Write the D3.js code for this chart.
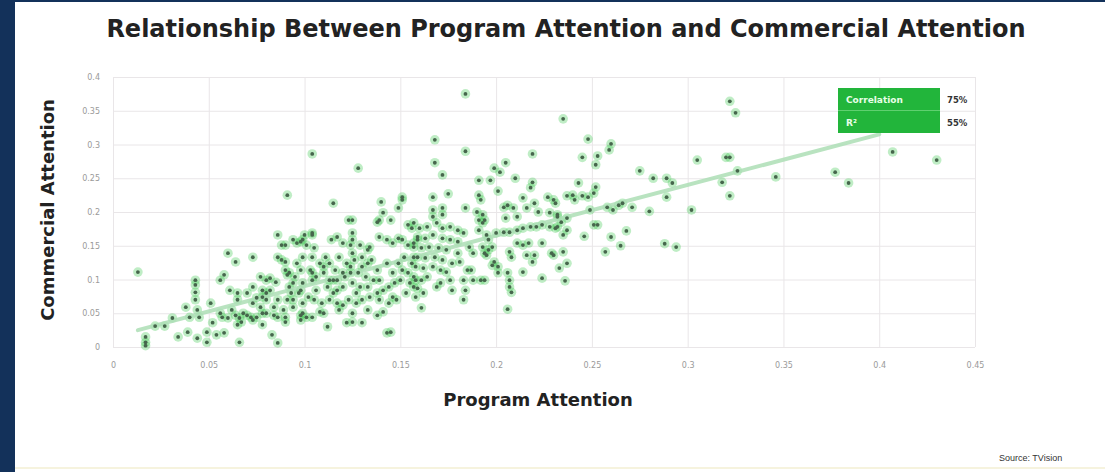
<!DOCTYPE html>
<html>
<head>
<meta charset="UTF-8"/>
<title>Program vs Commercial Attention</title>
<script src="https://d3js.org/d3.v7.min.js"></script>
<style>
  body { margin: 0; background: #fff; font-family: 'DejaVu Sans', sans-serif; }
  .tick text { fill: #9a9a9a; font-size: 8px; font-family: 'DejaVu Sans', sans-serif; }
  .grid line { stroke: #e9e6e8; stroke-width: 1; }
  .grid .domain { display: none; }
  .labels { font-weight: bold; fill: #222; }
</style>
</head>
<body>
<svg width="1105" height="472"></svg>
<script>
// data: [program attention, commercial attention]
var attention = [
  [0.013,0.111],[0.017,0.015],[0.017,0.007],[0.017,0.002],[0.022,0.031],[0.027,0.031],[0.031,0.043],[0.034,0.015],
  [0.039,0.022],[0.038,0.059],[0.040,0.044],[0.043,0.070],[0.043,0.081],[0.043,0.092],[0.043,0.099],[0.044,0.055],
  [0.045,0.044],[0.044,0.013],[0.049,0.022],[0.049,0.007],[0.051,0.065],[0.052,0.036],[0.054,0.018],[0.058,0.021],
  [0.056,0.099],[0.058,0.107],[0.060,0.139],[0.064,0.126],[0.061,0.084],[0.056,0.050],[0.057,0.044],[0.060,0.043],
  [0.065,0.070],[0.065,0.080],[0.066,0.007],[0.062,0.055],[0.064,0.047],[0.066,0.043],[0.068,0.050],[0.070,0.047],
  [0.072,0.044],[0.073,0.040],[0.075,0.044],[0.078,0.050],[0.065,0.033],[0.067,0.037],[0.073,0.133],[0.073,0.065],
  [0.075,0.073],[0.078,0.074],[0.080,0.080],[0.082,0.084],[0.080,0.070],[0.084,0.059],[0.084,0.047],[0.086,0.070],
  [0.078,0.033],[0.083,0.018],[0.086,0.006],[0.082,0.102],[0.085,0.096],[0.086,0.166],[0.088,0.151],[0.086,0.133],
  [0.088,0.129],[0.090,0.126],[0.090,0.114],[0.091,0.107],[0.089,0.055],[0.090,0.044],[0.090,0.037],
  [0.091,0.225],[0.104,0.286],[0.128,0.265],[0.115,0.213],[0.123,0.188],[0.096,0.154],[0.100,0.166],[0.098,0.156],
  [0.104,0.166],[0.125,0.169],[0.092,0.110],[0.078,0.084],[0.094,0.095],[0.098,0.084],[0.102,0.074],[0.104,0.110],
  [0.110,0.119],[0.113,0.099],[0.117,0.084],[0.120,0.110],[0.124,0.119],[0.091,0.070],[0.094,0.059],[0.099,0.050],
  [0.104,0.044],[0.110,0.050],[0.112,0.030],[0.098,0.040],[0.122,0.036],[0.125,0.050],[0.077,0.059],[0.080,0.050],
  [0.086,0.044],[0.070,0.080],[0.073,0.089],[0.077,0.104],[0.080,0.099],
  [0.125,0.188],[0.140,0.215],[0.138,0.185],[0.139,0.188],[0.141,0.199],[0.145,0.188],[0.149,0.206],[0.151,0.222],
  [0.151,0.218],[0.154,0.181],[0.156,0.176],[0.104,0.169],[0.099,0.159],[0.101,0.151],[0.105,0.147],[0.104,0.133],
  [0.090,0.151],[0.094,0.159],[0.114,0.159],[0.117,0.163],[0.120,0.154],[0.124,0.151],[0.125,0.159],[0.129,0.151],
  [0.133,0.144],[0.134,0.148],[0.130,0.133],[0.139,0.163],[0.143,0.159],[0.146,0.154],[0.149,0.161],[0.151,0.159],
  [0.154,0.151],[0.157,0.154],[0.159,0.159],
  [0.095,0.104],[0.092,0.089],[0.097,0.080],[0.094,0.070],[0.099,0.095],[0.103,0.114],[0.104,0.099],[0.106,0.084],
  [0.108,0.124],[0.110,0.110],[0.112,0.089],[0.109,0.065],[0.113,0.124],[0.116,0.114],[0.117,0.099],[0.115,0.080],
  [0.120,0.089],[0.122,0.124],[0.124,0.110],[0.125,0.095],[0.127,0.080],[0.130,0.119],[0.132,0.104],[0.133,0.089],
  [0.130,0.070],[0.135,0.129],[0.138,0.114],[0.139,0.099],[0.141,0.084],[0.143,0.124],[0.146,0.110],[0.147,0.095],
  [0.149,0.124],[0.151,0.114],[0.152,0.133],[0.154,0.110],[0.156,0.124],[0.158,0.099],[0.153,0.080],[0.146,0.074],
  [0.139,0.070],
  [0.098,0.047],[0.101,0.044],[0.108,0.052],[0.117,0.065],[0.118,0.055],[0.125,0.037],[0.130,0.036],[0.133,0.055],
  [0.138,0.047],[0.141,0.052],[0.144,0.065],[0.148,0.070],[0.143,0.021],[0.145,0.022],[0.120,0.062],[0.113,0.070],
  [0.096,0.124],[0.099,0.133],[0.098,0.114],[0.106,0.104],[0.111,0.133],[0.118,0.133],[0.121,0.104],[0.128,0.110],
  [0.129,0.089],[0.136,0.099],[0.138,0.080],[0.144,0.089],[0.150,0.099],[0.155,0.095],[0.157,0.133],[0.133,0.124],
  [0.125,0.139],[0.126,0.129],[0.115,0.099],[0.134,0.074],[0.127,0.065],[0.123,0.070],[0.105,0.070],[0.099,0.065],
  [0.093,0.080],
  [0.184,0.375],[0.168,0.307],[0.184,0.290],[0.168,0.273],[0.172,0.255],[0.219,0.286],[0.205,0.273],[0.199,0.265],
  [0.202,0.259],[0.191,0.247],[0.197,0.247],[0.210,0.250],[0.201,0.231],[0.218,0.236],[0.219,0.244],[0.175,0.227],
  [0.167,0.222],[0.191,0.225],[0.192,0.218],[0.227,0.222],[0.230,0.218],[0.167,0.203],[0.172,0.206],[0.172,0.196],
  [0.167,0.193],[0.184,0.206],[0.190,0.200],[0.193,0.196],[0.194,0.188],[0.191,0.188],[0.204,0.207],[0.206,0.210],
  [0.209,0.206],[0.214,0.221],[0.216,0.206],[0.220,0.213],[0.222,0.200],[0.228,0.199],[0.232,0.196],[0.205,0.191],
  [0.211,0.193],[0.200,0.169],[0.204,0.170],[0.207,0.170],[0.211,0.173],[0.214,0.176],[0.218,0.178],[0.221,0.178],
  [0.224,0.181],[0.228,0.178],[0.231,0.176],[0.193,0.184],[0.191,0.173],[0.195,0.166],[0.196,0.159],[0.198,0.148],
  [0.195,0.136],[0.199,0.126],[0.207,0.141],[0.208,0.133],[0.211,0.154],[0.214,0.151],[0.217,0.154],[0.216,0.136],
  [0.220,0.136],[0.219,0.126],[0.224,0.154],[0.229,0.139],[0.214,0.111],[0.224,0.102],[0.206,0.110],[0.207,0.099],
  [0.207,0.089],[0.208,0.081],[0.206,0.056],[0.201,0.110],[0.201,0.119],[0.198,0.121],[0.187,0.114],[0.188,0.099],
  [0.192,0.099],[0.194,0.099],[0.183,0.099],[0.184,0.084],[0.183,0.070],[0.176,0.099],[0.177,0.084],[0.161,0.058],
  [0.162,0.080],[0.169,0.089],[0.171,0.095],[0.180,0.139],[0.181,0.126],[0.185,0.114],[0.186,0.148],[0.188,0.139],
  [0.193,0.148],[0.194,0.139],[0.196,0.144],
  [0.157,0.184],[0.160,0.176],[0.164,0.178],[0.169,0.184],[0.172,0.176],[0.176,0.178],[0.180,0.173],[0.183,0.169],
  [0.159,0.163],[0.163,0.161],[0.167,0.166],[0.172,0.161],[0.176,0.159],[0.180,0.156],[0.157,0.148],[0.161,0.147],
  [0.165,0.148],[0.170,0.147],[0.174,0.144],[0.159,0.133],[0.163,0.132],[0.168,0.133],[0.172,0.129],[0.177,0.124],
  [0.158,0.119],[0.162,0.117],[0.167,0.119],[0.171,0.114],[0.174,0.111],[0.157,0.104],[0.161,0.099],[0.164,0.104],
  [0.157,0.089],[0.158,0.074],[0.159,0.087],
  [0.322,0.364],[0.325,0.347],[0.235,0.338],[0.248,0.308],[0.260,0.301],[0.259,0.292],[0.245,0.281],[0.253,0.283],
  [0.252,0.270],[0.305,0.277],[0.320,0.281],[0.322,0.281],[0.326,0.261],[0.318,0.244],[0.322,0.224],[0.275,0.261],
  [0.282,0.250],[0.289,0.250],[0.292,0.243],[0.289,0.222],[0.243,0.243],[0.252,0.237],[0.237,0.224],[0.240,0.225],
  [0.241,0.218],[0.245,0.224],[0.248,0.222],[0.251,0.228],[0.231,0.213],[0.249,0.203],[0.258,0.207],[0.261,0.203],
  [0.264,0.210],[0.266,0.213],[0.271,0.207],[0.280,0.201],[0.302,0.203],[0.232,0.193],[0.234,0.185],[0.237,0.191],
  [0.232,0.178],[0.235,0.166],[0.237,0.173],[0.251,0.181],[0.253,0.181],[0.246,0.164],[0.260,0.163],[0.268,0.172],
  [0.265,0.150],[0.257,0.141],[0.288,0.153],[0.294,0.148],[0.230,0.136],[0.235,0.141],[0.237,0.124],[0.233,0.117],
  [0.236,0.098],
  [0.346,0.252],[0.377,0.259],[0.384,0.243],[0.407,0.289],[0.430,0.277]
];

// trend line end points
var trendX = [0.013, 0.40];
var trendY = [0.025, 0.315];

var xTicks = [0, 0.05, 0.1, 0.15, 0.2, 0.25, 0.3, 0.35, 0.4, 0.45];
var yTicks = [0, 0.05, 0.1, 0.15, 0.2, 0.25, 0.3, 0.35, 0.4];

var statLabels = ["Correlation", "R\u00B2"];
var statValues = ["75%", "55%"];

var svg = d3.select("svg");

// slide frame
svg.append("rect").attr("x", 0).attr("y", 0).attr("width", 1105).attr("height", 472).attr("fill", "#fff");
svg.append("rect").attr("x", 0).attr("y", 0).attr("width", 15).attr("height", 472).attr("fill", "#13315a");
svg.append("rect").attr("x", 0).attr("y", 0).attr("width", 1105).attr("height", 2).attr("fill", "#13315a");
svg.append("rect").attr("x", 15).attr("y", 467).attr("width", 1090).attr("height", 2).attr("fill", "#f6f3de");

var x = d3.scaleLinear().domain([0, 0.45]).range([113, 975]),
    y = d3.scaleLinear().domain([0, 0.4]).range([347, 77]);

var fmt = d3.format("~g");

// gridlines
svg.append("g")
    .attr("class", "grid")
    .attr("transform", "translate(0,347)")
    .call(d3.axisBottom(x).tickValues(xTicks).tickSize(-270).tickFormat(""));
svg.append("g")
    .attr("class", "grid")
    .attr("transform", "translate(113,0)")
    .call(d3.axisLeft(y).tickValues(yTicks).tickSize(-862).tickFormat(""));

// tick labels
var xa = svg.append("g")
    .attr("transform", "translate(0,359)")
    .call(d3.axisBottom(x).tickValues(xTicks).tickSize(0).tickFormat(fmt));
xa.select(".domain").remove();

var ya = svg.append("g")
    .attr("transform", "translate(103,0)")
    .call(d3.axisLeft(y).tickValues(yTicks).tickSize(0).tickFormat(fmt));
ya.select(".domain").remove();

// point halos
svg.append("g").selectAll("circle")
    .data(attention)
  .enter().append("circle")
    .attr("cx", function(d) { return x(d[0]); })
    .attr("cy", function(d) { return y(d[1]); })
    .attr("r", 4.8)
    .attr("fill", "#2cc23e")
    .attr("opacity", 0.3);

// trend line
svg.append("line")
    .attr("x1", x(trendX[0])).attr("y1", y(trendY[0]))
    .attr("x2", x(trendX[1])).attr("y2", y(trendY[1]))
    .attr("stroke", "#addfb6")
    .attr("stroke-width", 4)
    .attr("stroke-linecap", "round")
    .attr("opacity", 0.85);

// points
svg.append("g").selectAll("circle")
    .data(attention)
  .enter().append("circle")
    .attr("cx", function(d) { return x(d[0]); })
    .attr("cy", function(d) { return y(d[1]); })
    .attr("r", 1.9)
    .attr("fill", "#46664c");

// stats box
var box = svg.append("g");
box.append("rect")
    .attr("x", 838).attr("y", 88).attr("width", 102).attr("height", 45)
    .attr("fill", "#22b53b");
box.append("line")
    .attr("x1", 838).attr("x2", 940).attr("y1", 110.5).attr("y2", 110.5)
    .attr("stroke", "#5fd070").attr("stroke-width", 1);
box.selectAll(".statlabel")
    .data(statLabels)
  .enter().append("text")
    .attr("x", 846)
    .attr("y", function(d, i) { return 103 + i * 23; })
    .attr("fill", "#e8ffe8")
    .style("font-size", "9px")
    .style("font-weight", "bold")
    .text(function(d) { return d; });
box.selectAll(".statvalue")
    .data(statValues)
  .enter().append("text")
    .attr("x", 947)
    .attr("y", function(d, i) { return 103 + i * 23; })
    .attr("fill", "#333")
    .style("font-size", "8.5px")
    .style("font-weight", "bold")
    .text(function(d) { return d; });

// titles
svg.append("text")
    .attr("class", "labels")
    .attr("x", 566)
    .attr("y", 37)
    .attr("text-anchor", "middle")
    .style("font-size", "24px")
    .text("Relationship Between Program Attention and Commercial Attention");

svg.append("text")
    .attr("class", "labels")
    .attr("transform", "rotate(-90)")
    .attr("x", -210)
    .attr("y", 54)
    .attr("text-anchor", "middle")
    .style("font-size", "18px")
    .text("Commercial Attention");

svg.append("text")
    .attr("class", "labels")
    .attr("x", 538)
    .attr("y", 406)
    .attr("text-anchor", "middle")
    .style("font-size", "18px")
    .text("Program Attention");

svg.append("text")
    .attr("x", 999)
    .attr("y", 461)
    .attr("fill", "#333")
    .style("font-family", "'Liberation Sans', sans-serif")
    .style("font-size", "9px")
    .text("Source: TVision");
</script>
</body>
</html>
